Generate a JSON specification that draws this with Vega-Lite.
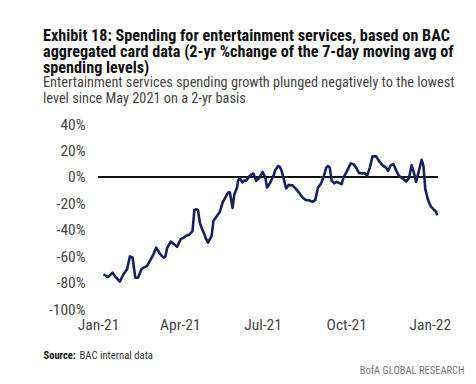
{
  "$schema": "https://vega.github.io/schema/vega-lite/v6.json",
  "width": 340,
  "height": 185,
  "autosize": {"type": "none"},
  "padding": {"left": 98, "top": 124, "right": 38, "bottom": 75},
  "background": "white",
  "config": {
    "view": {"stroke": null},
    "font": "Liberation Sans Narrow, Roboto Condensed, DejaVu Sans Condensed, Liberation Sans"
  },
  "title": {
    "text": ["Exhibit 18: Spending for entertainment services, based on BAC", "aggregated card data (2-yr %change of the 7-day moving avg of", "spending levels)"],
    "subtitle": ["Entertainment services spending growth plunged negatively to the lowest", "level since May 2021 on a 2-yr basis"],
    "anchor": "start",
    "frame": "group",
    "dx": -55,
    "offset": 11,
    "font": "Liberation Sans Narrow, Roboto Condensed, DejaVu Sans Condensed, Liberation Sans",
    "fontSize": 16.2,
    "fontWeight": "bold",
    "color": "#111111",
    "lineHeight": 16,
    "subtitleFont": "Liberation Sans Narrow, Roboto Condensed, DejaVu Sans Condensed, Liberation Sans",
    "subtitleFontSize": 14.3,
    "subtitleColor": "#444444",
    "subtitleLineHeight": 15.3,
    "subtitlePadding": 0
  },
  "data": {
    "values": [
      {"date": "2021-01-07", "value": -73.7},
      {"date": "2021-01-12", "value": -75.8},
      {"date": "2021-01-17", "value": -72.5},
      {"date": "2021-01-21", "value": -76.3},
      {"date": "2021-01-25", "value": -79.3},
      {"date": "2021-01-29", "value": -73.7},
      {"date": "2021-02-02", "value": -69.9},
      {"date": "2021-02-05", "value": -60.2},
      {"date": "2021-02-08", "value": -61.0},
      {"date": "2021-02-11", "value": -76.3},
      {"date": "2021-02-14", "value": -76.3},
      {"date": "2021-02-18", "value": -69.7},
      {"date": "2021-02-22", "value": -68.2},
      {"date": "2021-02-24", "value": -67.4},
      {"date": "2021-02-26", "value": -64.9},
      {"date": "2021-03-03", "value": -58.6},
      {"date": "2021-03-06", "value": -53.6},
      {"date": "2021-03-10", "value": -58.1},
      {"date": "2021-03-14", "value": -61.1},
      {"date": "2021-03-16", "value": -60.5},
      {"date": "2021-03-18", "value": -54.0},
      {"date": "2021-03-22", "value": -49.0},
      {"date": "2021-03-26", "value": -51.1},
      {"date": "2021-03-29", "value": -53.0},
      {"date": "2021-04-02", "value": -47.2},
      {"date": "2021-04-05", "value": -46.0},
      {"date": "2021-04-08", "value": -44.7},
      {"date": "2021-04-12", "value": -43.4},
      {"date": "2021-04-15", "value": -40.9},
      {"date": "2021-04-17", "value": -25.2},
      {"date": "2021-04-19", "value": -24.5},
      {"date": "2021-04-21", "value": -25.2},
      {"date": "2021-04-23", "value": -34.6},
      {"date": "2021-04-25", "value": -38.6},
      {"date": "2021-04-27", "value": -41.7},
      {"date": "2021-04-30", "value": -47.2},
      {"date": "2021-05-02", "value": -49.8},
      {"date": "2021-05-06", "value": -44.7},
      {"date": "2021-05-08", "value": -33.3},
      {"date": "2021-05-12", "value": -29.5},
      {"date": "2021-05-15", "value": -26.5},
      {"date": "2021-05-18", "value": -19.5},
      {"date": "2021-05-21", "value": -15.7},
      {"date": "2021-05-24", "value": -11.9},
      {"date": "2021-05-26", "value": -11.7},
      {"date": "2021-05-29", "value": -23.5},
      {"date": "2021-05-31", "value": -13.1},
      {"date": "2021-06-03", "value": -8.1},
      {"date": "2021-06-04", "value": -3.0},
      {"date": "2021-06-06", "value": -1.1},
      {"date": "2021-06-09", "value": -4.2},
      {"date": "2021-06-11", "value": -2.7},
      {"date": "2021-06-13", "value": -3.0},
      {"date": "2021-06-16", "value": 0.0},
      {"date": "2021-06-19", "value": 2.0},
      {"date": "2021-06-21", "value": 2.5},
      {"date": "2021-06-24", "value": -3.0},
      {"date": "2021-06-27", "value": -1.1},
      {"date": "2021-07-01", "value": 3.8},
      {"date": "2021-07-04", "value": -0.5},
      {"date": "2021-07-06", "value": -8.1},
      {"date": "2021-07-09", "value": -4.9},
      {"date": "2021-07-13", "value": 0.8},
      {"date": "2021-07-15", "value": 5.0},
      {"date": "2021-07-18", "value": 8.3},
      {"date": "2021-07-20", "value": 7.6},
      {"date": "2021-07-22", "value": 4.5},
      {"date": "2021-07-24", "value": -0.8},
      {"date": "2021-07-27", "value": -8.7},
      {"date": "2021-07-30", "value": -6.1},
      {"date": "2021-08-03", "value": -6.4},
      {"date": "2021-08-07", "value": -9.3},
      {"date": "2021-08-10", "value": -11.9},
      {"date": "2021-08-14", "value": -15.7},
      {"date": "2021-08-18", "value": -17.7},
      {"date": "2021-08-21", "value": -17.7},
      {"date": "2021-08-25", "value": -18.9},
      {"date": "2021-08-28", "value": -17.4},
      {"date": "2021-08-31", "value": -8.1},
      {"date": "2021-09-03", "value": -5.5},
      {"date": "2021-09-06", "value": -0.5},
      {"date": "2021-09-09", "value": 7.0},
      {"date": "2021-09-11", "value": 8.3},
      {"date": "2021-09-13", "value": 6.8},
      {"date": "2021-09-15", "value": -3.0},
      {"date": "2021-09-18", "value": -4.9},
      {"date": "2021-09-20", "value": -3.8},
      {"date": "2021-09-23", "value": -4.5},
      {"date": "2021-09-26", "value": -5.5},
      {"date": "2021-09-28", "value": -0.5},
      {"date": "2021-10-02", "value": 4.5},
      {"date": "2021-10-06", "value": 10.2},
      {"date": "2021-10-09", "value": 9.6},
      {"date": "2021-10-12", "value": 7.0},
      {"date": "2021-10-15", "value": 3.0},
      {"date": "2021-10-19", "value": 2.5},
      {"date": "2021-10-21", "value": 3.0},
      {"date": "2021-10-24", "value": 0.8},
      {"date": "2021-10-27", "value": 7.0},
      {"date": "2021-10-30", "value": 15.5},
      {"date": "2021-11-03", "value": 15.5},
      {"date": "2021-11-06", "value": 12.1},
      {"date": "2021-11-10", "value": 8.7},
      {"date": "2021-11-14", "value": 6.8},
      {"date": "2021-11-16", "value": 4.5},
      {"date": "2021-11-19", "value": 8.7},
      {"date": "2021-11-22", "value": 9.6},
      {"date": "2021-11-25", "value": 4.9},
      {"date": "2021-11-28", "value": 0.8},
      {"date": "2021-12-02", "value": -1.3},
      {"date": "2021-12-06", "value": -3.4},
      {"date": "2021-12-09", "value": -1.0},
      {"date": "2021-12-12", "value": 8.7},
      {"date": "2021-12-14", "value": 4.5},
      {"date": "2021-12-17", "value": -3.8},
      {"date": "2021-12-20", "value": 4.5},
      {"date": "2021-12-23", "value": 12.9},
      {"date": "2021-12-25", "value": 8.3},
      {"date": "2021-12-27", "value": -9.1},
      {"date": "2021-12-30", "value": -17.4},
      {"date": "2022-01-02", "value": -22.3},
      {"date": "2022-01-05", "value": -24.5},
      {"date": "2022-01-08", "value": -26.5},
      {"date": "2022-01-09", "value": -29.2}
    ]
  },
  "layer": [
    {
      "mark": {"type": "rule", "color": "#111111", "strokeWidth": 1.3},
      "encoding": {
        "y": {
          "datum": 0,
          "type": "quantitative",
          "scale": {"domain": [-100, 40]},
          "axis": {
            "orient": "right",
            "labels": false,
            "ticks": false,
            "domain": false,
            "grid": false,
            "title": "BAC internal data",
            "titleFontSize": 10.7,
            "titleFontWeight": "normal",
            "titleColor": "#333333",
            "titleAngle": 0,
            "titleAlign": "left",
            "titleBaseline": "alphabetic",
            "titleX": -359,
            "titleY": 234
          }
        }
      }
    },
    {
      "mark": {"type": "line", "color": "#17215c", "strokeWidth": 2.6, "strokeJoin": "round"},
      "encoding": {
        "x": {
          "field": "date",
          "type": "temporal",
          "scale": {"domain": [{"year": 2021, "month": 1, "date": 1}, {"year": 2022, "month": 1, "date": 10}]},
          "axis": {
            "values": [
              {"year": 2021, "month": 1, "date": 1},
              {"year": 2021, "month": 4, "date": 1},
              {"year": 2021, "month": 7, "date": 1},
              {"year": 2021, "month": 10, "date": 1},
              {"year": 2022, "month": 1, "date": 1}
            ],
            "format": "%b-%y",
            "domain": false,
            "ticks": false,
            "grid": false,
            "labelPadding": 8,
            "labelFontSize": 15.5,
            "labelColor": "#444444",
            "labelFlush": false,
            "labelOverlap": false,
            "title": "Source:",
            "titleFontSize": 10.5,
            "titleFontWeight": "bold",
            "titleColor": "#111111",
            "titleAlign": "left",
            "titleBaseline": "alphabetic",
            "titleX": -55,
            "titleY": 49
          }
        },
        "y": {
          "field": "value",
          "type": "quantitative",
          "scale": {"domain": [-100, 40]},
          "axis": {
            "orient": "left",
            "values": [-100, -80, -60, -40, -20, 0, 20, 40],
            "labelExpr": "datum.value + '%'",
            "domain": false,
            "ticks": false,
            "grid": false,
            "labelPadding": 13,
            "labelFontSize": 15.5,
            "labelColor": "#444444",
            "title": "BofA GLOBAL RESEARCH",
            "titleFontSize": 10.5,
            "titleFontWeight": "normal",
            "titleColor": "#777777",
            "titleAngle": 0,
            "titleAlign": "right",
            "titleBaseline": "alphabetic",
            "titleX": 366,
            "titleY": 249
          }
        }
      }
    }
  ],
  "resolve": {"scale": {"y": "independent"}}
}
